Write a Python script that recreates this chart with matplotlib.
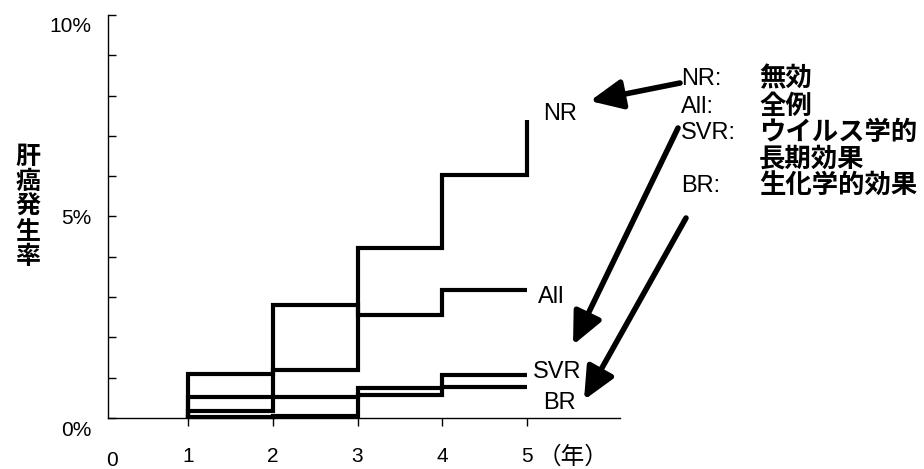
import numpy as np
import matplotlib
matplotlib.use("Agg")
from matplotlib import pyplot as plt
from matplotlib import transforms

plt.rcParams['font.family'] = ['Liberation Sans', 'Noto Sans CJK JP', 'DejaVu Sans']

# interval start years, and the value held on each interval (%)
years = [1, 2, 3, 4, 5]
nr_vals  = [1.09, 1.19, 4.22, 6.03]
all_vals = [0.17, 2.80, 2.56, 3.18]
svr_vals = [0.52, 0.52, 0.74, 1.07]
br_vals  = [0.03, 0.05, 0.57, 0.77]
nr_last = 7.4

series_names = ["NR", "All", "SVR", "BR"]
legend_codes = ["NR:", "All:", "SVR:", "", "BR:"]
legend_texts = ["無効", "全例", "ウイルス学的", "長期効果", "生化学的効果"]
ylabel = "肝癌発生率"

W, H = 924, 469


def fig_xy(px, py):
    # pixel (from top left) -> figure fraction
    return px / W, 1 - py / H


def step_xy(vals, last=None):
    x = [years[0]] + years
    y = [0] + vals + [vals[-1] if last is None else last]
    return x, y


fig = plt.figure(figsize=(W / 100, H / 100), dpi=100)
ax = fig.add_axes([108 / W, 1 - 418 / H, 512 / W, 403 / H])

for vals, last in [(nr_vals, nr_last), (all_vals, None), (svr_vals, None), (br_vals, None)]:
    x, y = step_xy(vals, last)
    ax.plot(x, y, drawstyle='steps-post', color='black', lw=3, clip_on=False,
            solid_capstyle='butt', solid_joinstyle='miter')

ax.set_xlim(0.056, 6.097)
ax.set_ylim(0, 10)

for s in ['top', 'right']:
    ax.spines[s].set_visible(False)
for s in ['left', 'bottom']:
    ax.spines[s].set_linewidth(1.0)

ax.set_xticks(years)
ax.set_xticklabels([str(v) for v in years], fontsize=15)
ax.tick_params(axis='x', direction='out', length=6, width=1, pad=15)
ax.set_yticks([0, 5, 10])
ax.set_yticklabels(['0%', '5%', '10%'], fontsize=15)
ax.set_yticks(np.arange(0, 11, 1), minor=True)
ax.tick_params(axis='y', which='both', direction='in', length=6, width=1, pad=12)

# 0% and 10% sit a little below their ticks in the original
shift = transforms.ScaledTranslation(0, -10 / 100, fig.dpi_scale_trans)
for lab in ax.get_yticklabels():
    if lab.get_text() in ('0%', '10%'):
        lab.set_transform(lab.get_transform() + shift)

xt = ax.get_xaxis_transform()
ax.text(0.1, -0.105, "0", transform=xt, ha='center', va='center', fontsize=15)
ax.text(5.12, -0.097, "（年）", transform=xt, ha='left', va='center', fontsize=17)

# labels at line ends (x, y in data units)
label_x = [5.19, 5.13, 5.07, 5.19]
label_y = [7.55, 3.0, 1.14, 0.37]
for name, x0, y0 in zip(series_names, label_x, label_y):
    ax.text(x0, y0, name, ha='left', va='center', fontsize=17)

# y label, one character per row
for i, ch in enumerate(ylabel):
    fx, fy = fig_xy(28, 157 + 25 * i)
    fig.text(fx, fy, ch, ha='center', va='center', fontsize=18, fontweight='bold')

# legend block on the right
rows_y = [79, 107, 133, 159, 186]
for code, txt, py in zip(legend_codes, legend_texts, rows_y):
    fx, fy = fig_xy(681, py)
    if code:
        fig.text(fx, fy, code, ha='left', va='center', fontsize=17)
    fx, fy = fig_xy(759, py)
    fig.text(fx, fy, txt, ha='left', va='center', fontsize=19, fontweight='bold')

# arrows from legend to line labels
arrows = [((680, 83), (590, 101)),
          ((678, 128), (573, 345)),
          ((686, 218), (584, 400))]
for tail, head in arrows:
    ax.annotate('', xy=fig_xy(*head), xytext=fig_xy(*tail),
                xycoords='figure fraction', textcoords='figure fraction',
                arrowprops=dict(arrowstyle='-|>,head_length=1.3,head_width=0.6',
                                lw=4, color='black', shrinkA=0, shrinkB=0,
                                mutation_scale=15))

fig.savefig("out.png", dpi=100)
